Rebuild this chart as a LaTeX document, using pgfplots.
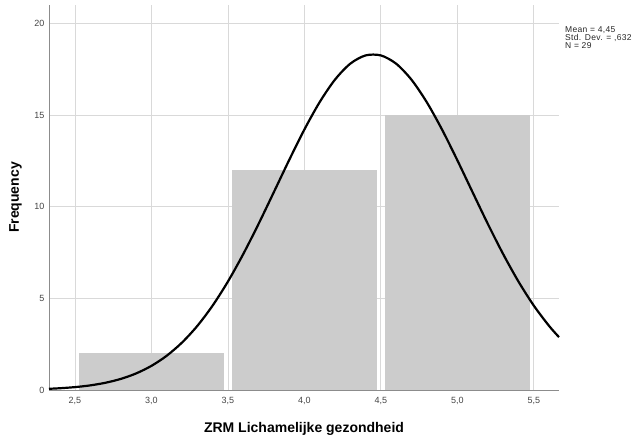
\documentclass[border=0pt]{standalone}
\usepackage{pgfplots}
\pgfplotsset{compat=1.18}
\usepackage{fontspec}
\setmainfont{Liberation Sans}
\newfontfamily\legfont[LetterSpace=4]{Liberation Sans}
\definecolor{barfill}{HTML}{CCCCCC}
\definecolor{gridc}{HTML}{D9D9D9}
\definecolor{axisc}{HTML}{8C8C8C}
\definecolor{tickc}{HTML}{444444}
\begin{document}
\begin{tikzpicture}
\path[use as bounding box] (0,0) rectangle (635pt,441pt);
\begin{axis}[
  at={(49pt,51pt)}, anchor=south west,
  scale only axis, width=510pt, height=385pt,
  xmin=2.33, xmax=5.665, ymin=0, ymax=21,
  axis lines*=left,
  axis line style={axisc, line width=0.8pt, -},
  xtick={2.5,3.0,...,5.5}, ytick={0,5,10,15,20},
  major tick length=0pt,
  grid=major,
  major grid style={gridc, line width=0.8pt},
  tick label style={font=\fontsize{9}{10}\selectfont, text=tickc},
  /pgf/number format/assume math mode=true,
  x tick label style={/pgf/number format/.cd, fixed, fixed zerofill, precision=1, use comma},
  y tick label style={/pgf/number format/.cd, fixed, precision=0},
  xticklabel shift=4pt, yticklabel shift=1pt,
  xlabel={ZRM Lichamelijke gezondheid},
  ylabel={Frequency},
  label style={font=\fontsize{14}{16}\selectfont\bfseries},
  xlabel style={at={(axis description cs:0.5,0)}, anchor=north, inner sep=0pt, yshift=-32pt},
  ylabel style={at={(axis description cs:-0.0657,0.5)}, anchor=center, inner sep=0pt, rotate=0},
  clip=false,
]
\addplot[fill=barfill, draw=none] coordinates {(2.526,0)(2.526,2)(3.474,2)(3.474,0)} -- cycle;
\addplot[fill=barfill, draw=none] coordinates {(3.526,0)(3.526,12)(4.474,12)(4.474,0)} -- cycle;
\addplot[fill=barfill, draw=none] coordinates {(4.526,0)(4.526,15)(5.474,15)(5.474,0)} -- cycle;
\addplot[black, line width=2.2pt, smooth, no marks] coordinates {
(2.33,0.066)(2.4,0.095)(2.5,0.157)(2.6,0.252)(2.7,0.396)(2.8,0.606)(2.9,0.905)
(3.0,1.317)(3.1,1.870)(3.2,2.589)(3.3,3.496)(3.4,4.605)(3.5,5.915)(3.6,7.411)
(3.7,9.053)(3.8,10.787)(3.9,12.535)(4.0,14.208)(4.1,15.703)(4.2,16.928)
(4.3,17.798)(4.4,18.249)(4.5,18.249)(4.6,17.798)(4.7,16.928)
(4.8,15.703)(4.9,14.208)(5.0,12.535)(5.1,10.787)(5.2,9.053)(5.3,7.411)
(5.4,5.915)(5.5,4.605)(5.6,3.496)(5.665,2.884)};
\end{axis}
\node[anchor=north west, align=left, inner sep=0pt, font=\legfont\fontsize{8.5}{8.2}\selectfont, text=black!85]
  at (565pt,415pt) {Mean = 4,45\\Std. Dev. = ,632\\N = 29};
\end{tikzpicture}
\end{document}
